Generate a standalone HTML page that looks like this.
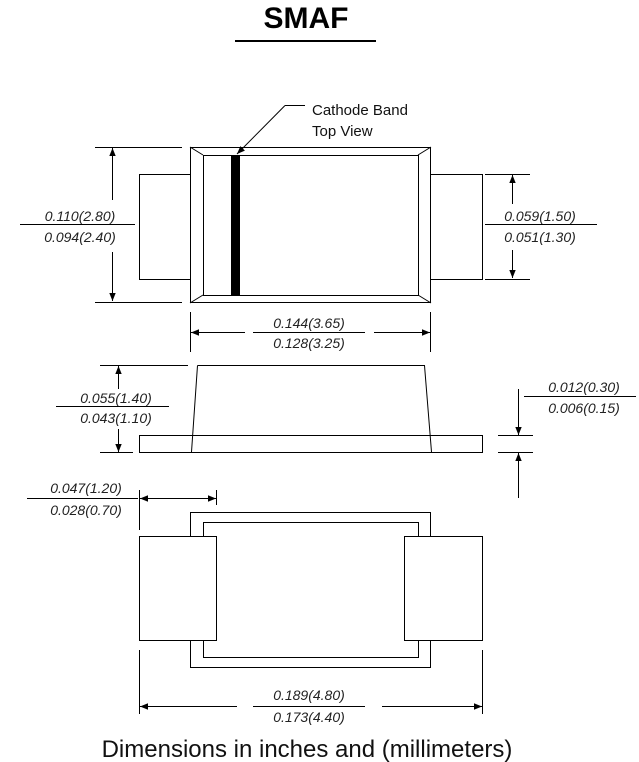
<!DOCTYPE html>
<html><head><style>
body{margin:0;background:#fff;}
svg{display:block;font-family:"Liberation Sans",sans-serif;}
.l{stroke:#000;stroke-width:1;fill:none}
.t{font-size:14px;font-style:italic;fill:#222;text-anchor:middle}
</style></head><body>
<svg width="639" height="762" viewBox="0 0 639 762">
<defs>
<marker id="a" viewBox="0 0 10 10" refX="10" refY="5" markerWidth="14" markerHeight="8" orient="auto" markerUnits="userSpaceOnUse"><path d="M0,1 L10,5 L0,9 z" fill="#000"/></marker>
</defs>
<text x="306" y="28" font-size="30" font-weight="bold" text-anchor="middle">SMAF</text>
<line x1="235" y1="41" x2="376" y2="41" stroke="#000" stroke-width="2"/>

<!-- top view -->
<g class="l">
<rect x="139.5" y="174.5" width="51" height="105"/>
<rect x="430.5" y="174.5" width="52" height="105"/>
<rect x="190.5" y="147.5" width="240" height="155" fill="#fff"/>
<rect x="203.5" y="155.5" width="215" height="140"/>
<line x1="190" y1="147" x2="203" y2="155"/><line x1="431" y1="147" x2="418" y2="155"/>
<line x1="190" y1="303" x2="203" y2="295"/><line x1="431" y1="303" x2="418" y2="295"/>
<line x1="95" y1="147.5" x2="182" y2="147.5"/><line x1="95" y1="302.5" x2="182" y2="302.5"/>
<line x1="112.5" y1="200" x2="112.5" y2="148" marker-end="url(#a)"/>
<line x1="112.5" y1="252" x2="112.5" y2="301" marker-end="url(#a)"/>
<line x1="20" y1="224.5" x2="135" y2="224.5"/>
<line x1="485" y1="174.5" x2="530" y2="174.5"/><line x1="485" y1="279.5" x2="530" y2="279.5"/>
<line x1="512.5" y1="204" x2="512.5" y2="175" marker-end="url(#a)"/>
<line x1="512.5" y1="250" x2="512.5" y2="278" marker-end="url(#a)"/>
<line x1="485" y1="224.5" x2="597" y2="224.5"/>
<line x1="190.5" y1="312" x2="190.5" y2="352"/><line x1="430.5" y1="312" x2="430.5" y2="352"/>
<line x1="245" y1="332.5" x2="191" y2="332.5" marker-end="url(#a)"/>
<line x1="374" y1="332.5" x2="430" y2="332.5" marker-end="url(#a)"/>
<line x1="253" y1="332.5" x2="365" y2="332.5"/>
<line x1="305" y1="105.5" x2="285" y2="105.5"/>
<line x1="285" y1="105.5" x2="237" y2="154" marker-end="url(#a)"/>
</g>
<rect x="231" y="155" width="9" height="141" fill="#000"/>
<text x="312" y="115" font-size="15" fill="#111">Cathode Band</text>
<text x="312" y="136" font-size="15" fill="#111">Top View</text>
<text class="t" x="80" y="221">0.110(2.80)</text>
<text class="t" x="80" y="242">0.094(2.40)</text>
<text class="t" x="540" y="221">0.059(1.50)</text>
<text class="t" x="540" y="242">0.051(1.30)</text>
<text class="t" x="309" y="328">0.144(3.65)</text>
<text class="t" x="309" y="348">0.128(3.25)</text>

<!-- side view -->
<g class="l">
<path d="M197.5,365.5 L424.5,365.5 L431.5,452 M191.5,452 L197.5,365.5"/>
<rect x="139.5" y="435.5" width="343" height="17"/>
<line x1="100" y1="365.5" x2="188" y2="365.5"/><line x1="100" y1="452.5" x2="133" y2="452.5"/>
<line x1="118.5" y1="389" x2="118.5" y2="366" marker-end="url(#a)"/>
<line x1="118.5" y1="429" x2="118.5" y2="452" marker-end="url(#a)"/>
<line x1="56" y1="406.5" x2="169" y2="406.5"/>
<line x1="498" y1="435.5" x2="533" y2="435.5"/><line x1="498" y1="452.5" x2="533" y2="452.5"/>
<line x1="518.5" y1="389" x2="518.5" y2="435" marker-end="url(#a)"/>
<line x1="518.5" y1="498" x2="518.5" y2="453" marker-end="url(#a)"/>
<line x1="524" y1="396.5" x2="636" y2="396.5"/>
</g>
<text class="t" x="116" y="403">0.055(1.40)</text>
<text class="t" x="116" y="423">0.043(1.10)</text>
<text class="t" x="584" y="392">0.012(0.30)</text>
<text class="t" x="584" y="413">0.006(0.15)</text>

<!-- bottom view -->
<g class="l">
<rect x="190.5" y="512.5" width="240" height="155"/>
<rect x="203.5" y="522.5" width="215" height="135"/>
<rect x="139.5" y="536.5" width="77" height="104" fill="#fff"/>
<rect x="404.5" y="536.5" width="78" height="104" fill="#fff"/>
<line x1="27" y1="498.5" x2="138" y2="498.5"/>
<line x1="139.5" y1="490" x2="139.5" y2="530"/><line x1="216.5" y1="490" x2="216.5" y2="505"/>
<line x1="175" y1="498.5" x2="140" y2="498.5" marker-end="url(#a)"/>
<line x1="175" y1="498.5" x2="216" y2="498.5" marker-end="url(#a)"/>
<line x1="139.5" y1="650" x2="139.5" y2="714"/><line x1="482.5" y1="650" x2="482.5" y2="714"/>
<line x1="237" y1="706.5" x2="140" y2="706.5" marker-end="url(#a)"/>
<line x1="382" y1="706.5" x2="482" y2="706.5" marker-end="url(#a)"/>
<line x1="253" y1="706.5" x2="365" y2="706.5"/>
</g>
<text class="t" x="86" y="493">0.047(1.20)</text>
<text class="t" x="86" y="515">0.028(0.70)</text>
<text class="t" x="309" y="700">0.189(4.80)</text>
<text class="t" x="309" y="722">0.173(4.40)</text>

<text x="307" y="757" font-size="24" fill="#111" text-anchor="middle">Dimensions in inches and (millimeters)</text>
</svg>
</body></html>
